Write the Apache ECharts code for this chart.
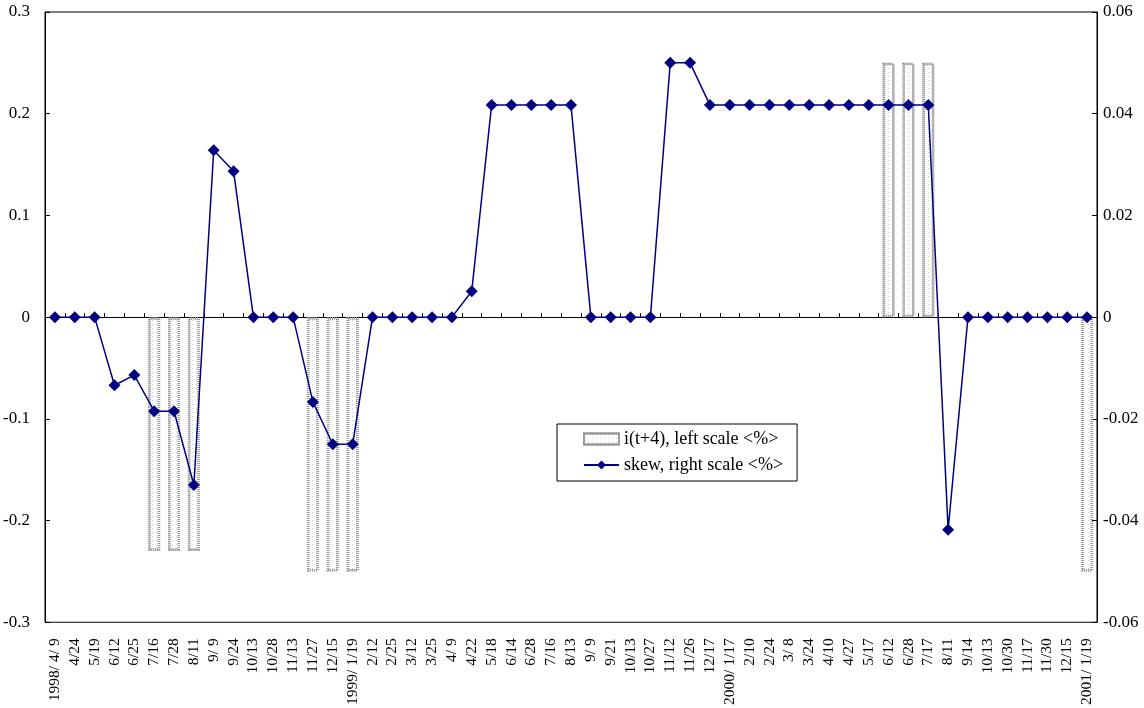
<!DOCTYPE html>
<html><head><meta charset="utf-8">
<script src="https://cdn.jsdelivr.net/npm/echarts@6/dist/echarts.min.js"></script>
<style>html,body{margin:0;padding:0;background:#fff}#c{width:1144px;height:708px}</style>
</head><body><div id="c"></div>
<script>
const categories = ['1998/ 4/ 9','4/24','5/19','6/12','6/25','7/16','7/28','8/11','9/ 9','9/24','10/13','10/28','11/13','11/27','12/15','1999/ 1/19','2/12','2/25','3/12','3/25','4/ 9','4/22','5/18','6/14','6/28','7/16','8/13','9/ 9','9/21','10/13','10/27','11/12','11/26','12/17','2000/ 1/17','2/10','2/24','3/ 8','3/24','4/10','4/27','5/17','6/12','6/28','7/17','8/11','9/14','10/13','10/30','11/17','11/30','12/15','2001/ 1/19'];
const interestValues = [null,null,null,null,null,-0.23,-0.23,-0.23,null,null,null,null,null,-0.25,-0.25,-0.25,null,null,null,null,null,null,null,null,null,null,null,null,null,null,null,null,null,null,null,null,null,null,null,null,null,null,0.25,0.25,0.25,null,null,null,null,null,null,null,-0.25];
const skewValues = [0,0,0,-0.0134,-0.0114,-0.0185,-0.0185,-0.033,0.0328,0.0287,0,0,0,-0.0167,-0.025,-0.025,0,0,0,0,0,0.0051,0.0417,0.0417,0.0417,0.0417,0.0417,0,0,0,0,0.05,0.05,0.0417,0.0417,0.0417,0.0417,0.0417,0.0417,0.0417,0.0417,0.0417,0.0417,0.0417,0.0417,-0.0418,0,0,0,0,0,0,0];
const seriesNames = ['i(t+4), left scale <%>', 'skew, right scale <%>'];

const font = 'Liberation Serif';
const chart = echarts.init(document.getElementById('c'));
chart.setOption({
  animation: false,
  backgroundColor: '#fff',
  grid: {left: 45, right: 47, top: 12, bottom: 85, show: true, borderColor: '#000', borderWidth: 1, backgroundColor: 'transparent'},
  legend: {
    orient: 'vertical', left: 557, top: 424, padding: [6, 14, 7, 26],
    borderColor: '#000', borderWidth: 1, backgroundColor: '#fff',
    itemGap: 8, itemWidth: 35, itemHeight: 11,
    textStyle: {fontFamily: font, fontSize: 18, color: '#000'},
    data: [{name: seriesNames[0], icon: 'rect'}, {name: seriesNames[1]}]
  },
  xAxis: [{
    type: 'category', data: categories, position: 'bottom',
    axisLine: {show: false}, axisTick: {show: false},
    axisLabel: {interval: 0, rotate: 90, fontFamily: font, fontSize: 15.5, color: '#000', margin: 16}
  }, {
    type: 'category', data: categories, position: 'bottom',
    axisLine: {onZero: true, lineStyle: {color: '#000', width: 1}},
    axisTick: {show: true, inside: true, length: 4, interval: 0, lineStyle: {color: '#000'}},
    axisLabel: {show: false}
  }],
  yAxis: [{
    type: 'value', min: -0.3, max: 0.3, interval: 0.1,
    axisLine: {show: true, lineStyle: {color: '#000'}},
    axisTick: {show: true, inside: true, length: 5, lineStyle: {color: '#000'}},
    splitLine: {show: false},
    axisLabel: {fontFamily: font, fontSize: 17, color: '#000', margin: 15}
  }, {
    type: 'value', min: -0.06, max: 0.06, interval: 0.02, position: 'right',
    axisLine: {show: true, lineStyle: {color: '#000'}},
    axisTick: {show: true, inside: true, length: 5, lineStyle: {color: '#000'}},
    splitLine: {show: false},
    axisLabel: {fontFamily: font, fontSize: 17, color: '#000', margin: 6}
  }],
  series: [{
    name: seriesNames[0], type: 'bar', xAxisIndex: 0, yAxisIndex: 0,
    data: interestValues, barWidth: 12,
    itemStyle: {
      color: '#fff', borderColor: '#9a9a9a', borderWidth: 2.5, borderType: [1, 1],
      decal: {symbol: 'rect', symbolSize: 1, dashArrayX: [1, 3], dashArrayY: [1, 3], color: '#ccc'}
    }
  }, {
    name: seriesNames[1], type: 'line', xAxisIndex: 0, yAxisIndex: 1,
    data: skewValues, symbol: 'diamond', symbolSize: 12,
    lineStyle: {color: '#000080', width: 1.5},
    itemStyle: {color: '#000080'}
  }]
});
</script></body></html>
